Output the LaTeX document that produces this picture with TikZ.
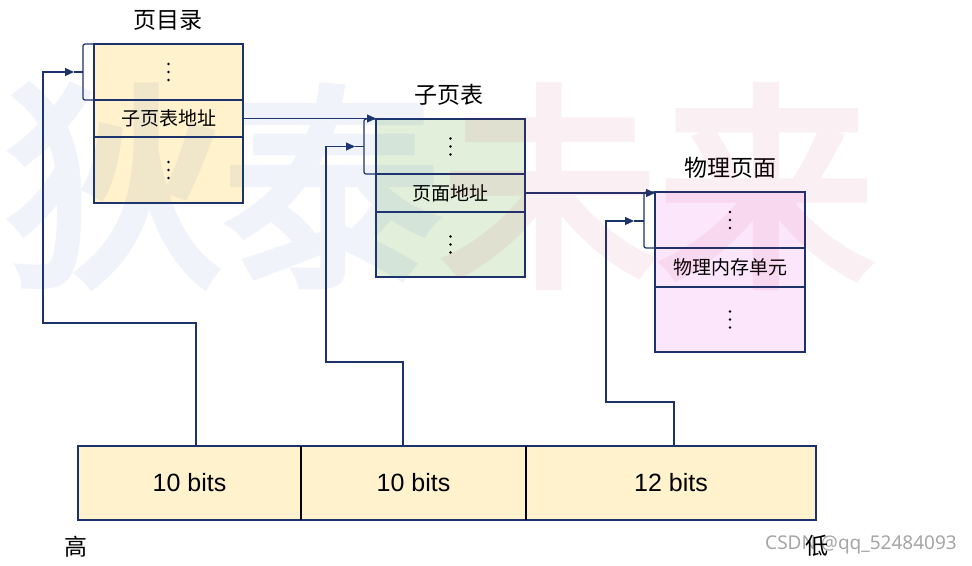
\documentclass[tikz,border=0pt]{standalone}
\usepackage{fontspec}
\setmainfont{Liberation Sans}
\newfontfamily\cjk{Noto Sans CJK SC}
\newfontfamily\cjkwm[FakeBold=4]{Noto Sans CJK SC}
\newfontfamily\csdnfont{Noto Sans}
\usetikzlibrary{arrows.meta,calc}
\definecolor{navy}{HTML}{1C326A}
\definecolor{yfill}{HTML}{FFF2CC}
\definecolor{gfill}{HTML}{E2EFDA}
\definecolor{pfill}{HTML}{FCE6FC}
\definecolor{wmblue}{HTML}{3060C0}
\definecolor{wmpink}{HTML}{C02050}
\tikzset{
  cell/.style={draw=navy, line width=1.2pt, minimum width=149pt, inner sep=0pt, outer sep=0pt, anchor=north west, font=\cjk\fontsize{19}{19}\selectfont},
  barcell/.style={draw=navy, line width=1.2pt, fill=yfill, minimum height=74pt, inner sep=0pt, outer sep=0pt, anchor=north west, font=\fontsize{25}{25}\selectfont},
  conn/.style={draw=navy, line width=1.2pt},
  arr/.style={conn, -{Triangle[length=9pt,width=8pt]}},
  brk/.style={conn, rounded corners=2pt},
  title/.style={font=\cjk\fontsize{23}{23}\selectfont, inner sep=0pt},
  dot/.style={fill=black},
  wmchar/.style={font=\cjkwm\fontsize{217}{217}\selectfont, inner sep=0pt},
}
\begin{document}
\begin{tikzpicture}[x=1pt,y=-1pt]
\useasboundingbox (0,0) rectangle (972,565);
\fill[white] (0,0) rectangle (972,565);

% page directory
\node[title] (t1) at (168,20) {页目录};
\node[cell, fill=yfill, minimum height=56pt] (a1) at (94,44) {};
\node[cell, fill=yfill, minimum height=37pt] (b1) at (94,100) {子页表地址};
\node[cell, fill=yfill, minimum height=66pt] (c1) at (94,137) {};

% sub page table
\node[title] (t2) at (449,95) {子页表};
\node[cell, fill=gfill, minimum height=55pt] (a2) at (376,119) {};
\node[cell, fill=gfill, minimum height=38pt] (b2) at (376,174) {页面地址};
\node[cell, fill=gfill, minimum height=65pt] (c2) at (376,212) {};

% physical page
\node[title] (t3) at (730,168) {物理页面};
\node[cell, fill=pfill, minimum width=150pt, minimum height=56pt] (a3) at (655,192) {};
\node[cell, fill=pfill, minimum width=150pt, minimum height=39pt] (b3) at (655,248) {物理内存单元};
\node[cell, fill=pfill, minimum width=150pt, minimum height=65pt] (c3) at (655,287) {};

% dots
\foreach \n in {a1,c1,a2,c2,a3,c3}{
  \foreach \d in {-8,0,8}{
    \fill[dot] ($(\n.center)+(0,\d)$) circle (1.4pt);
  }
}

% address bar
\node[barcell, minimum width=223pt] (f1) at (78,446) {10 bits};
\node[barcell, minimum width=225pt] (f2) at (301,446) {10 bits};
\node[barcell, minimum width=290pt] (f3) at (526,446) {12 bits};
\draw[black, line width=1.2pt] (f1.north east) -- (f1.south east);
\draw[black, line width=1.2pt] (f2.north east) -- (f2.south east);

% brackets
\draw[brk] (a1.north west) -- ++(-11,0) |- (a1.south west);
\draw[brk] (a2.north west) -- ++(-12,0) |- (a2.south west);
\draw[brk] (a3.north west) -- ++(-11,0) |- (a3.south west);

% coordinates
\coordinate (p1) at (196,446);
\coordinate (p2) at (403,446);
\coordinate (p3) at (674,446);
\coordinate (q1) at (74,72);
\coordinate (r1) at (83,72);
\coordinate (q2) at (355,146.5);
\coordinate (r2) at (364,146.5);
\coordinate (q3) at (634,221);
\coordinate (r3) at (644,221);

% connectors from address bar
\draw[arr] (p1) |- (43,323) |- (q1);
\draw[conn] (q1) -- (r1);
\draw[arr] (p2) |- (326,362) |- (q2);
\draw[conn] (q2) -- (r2);
\draw[arr] (p3) |- (606,402) |- (q3);
\draw[conn] (q3) -- (r3);

% connectors between tables
\draw[arr] (b1.east) -- (b1.east -| a2.north west);
\draw[arr] (b2.east) -- (b2.east -| a3.north west);

% labels
\node[font=\cjk\fontsize{23}{23}\selectfont, inner sep=0pt] (hi) at (76,547) {高};
\node[font=\csdnfont\fontsize{19}{19}\selectfont, text=black!35, inner sep=0pt] (csdn) at (861,545) {CSDN @qq\_52484093};
\node[font=\cjk\fontsize{23}{23}\selectfont, inner sep=0pt] (lo) at (817,546) {低};

% watermark
\begin{scope}[transparency group, opacity=0.07]
\node[wmchar, text=wmblue] (wm1) at (115,186) {狄};
\node[wmchar, text=wmblue] (wm2) at (332,186) {泰};
\end{scope}
\begin{scope}[transparency group, opacity=0.07]
\node[wmchar, text=wmpink] (wm3) at (549,186) {未};
\node[wmchar, text=wmpink] (wm4) at (766,186) {来};
\end{scope}
\end{tikzpicture}
\end{document}
